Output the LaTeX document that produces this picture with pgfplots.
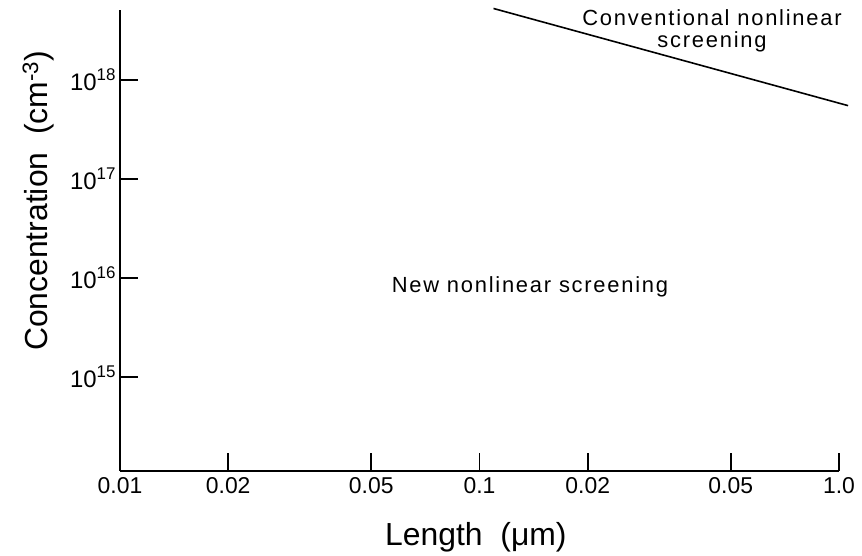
\documentclass[border=0pt]{standalone}
\usepackage{fontspec}
\setmainfont{Liberation Sans}
\usepackage{pgfplots}
\pgfplotsset{compat=1.18}

\newcommand{\pw}[1]{10\raisebox{0.42em}{\fontsize{17}{18}\selectfont #1}}

\begin{document}
\begin{tikzpicture}
\path[use as bounding box] (-120bp,-85bp) rectangle (742bp,471bp);
\begin{axis}[
    at={(0,0)}, anchor=south west,
    scale only axis,
    width=719bp, height=461bp,
    xmode=log, ymode=log,
    xmin=0.01, xmax=1,
    ymin=1.122e14, ymax=5.09e18,
    enlargelimits=false,
    clip=false,
    axis lines=left,
    axis line style={-, line width=1.6bp},
    tick align=inside,
    major tick length=18bp,
    tick style={line width=1.6bp, black},
    xminorticks=false, yminorticks=false,
    xtick={0.01,0.02,0.05,0.1,0.2,0.5,1},
    xticklabels={0.01,0.02,0.05,0.1,0.02,0.05,1.0},
    ytick={1e15,1e16,1e17,1e18},
    yticklabels={\pw{15},\pw{16},\pw{17},\pw{18}},
    xticklabel style={font=\fontsize{23}{26}\selectfont, yshift=-3bp},
    yticklabel style={font=\fontsize{24}{28}\selectfont, xshift=-1bp},
    every axis x label/.style={at={(axis description cs:0.495,-0.143)}, anchor=center},
    every axis y label/.style={at={(axis description cs:-0.114,0.586)}, rotate=90, anchor=center},
    label style={font=\fontsize{32}{36}\selectfont},
    xlabel={Length\ \ (μm)},
    ylabel={Concentration\ \ (cm\textsuperscript{-3})},
]

% conventional nonlinear screening limit
\addplot[black, line width=1.6bp] coordinates {(0.1094, 5.27e18) (1.06, 5.5e17)};

\node[anchor=base, font=\fontsize{22}{26}\selectfont\addfontfeature{LetterSpace=8}]
    at (axis description cs:0.8234,0.9653) {Conventional nonlinear};
\node[anchor=base, font=\fontsize{22}{26}\selectfont\addfontfeature{LetterSpace=8}]
    at (axis description cs:0.8234,0.9176) {screening};
\node[anchor=base, font=\fontsize{22}{26}\selectfont\addfontfeature{LetterSpace=8}]
    at (axis description cs:0.5702,0.3861) {New nonlinear screening};

\end{axis}
\end{tikzpicture}
\end{document}
